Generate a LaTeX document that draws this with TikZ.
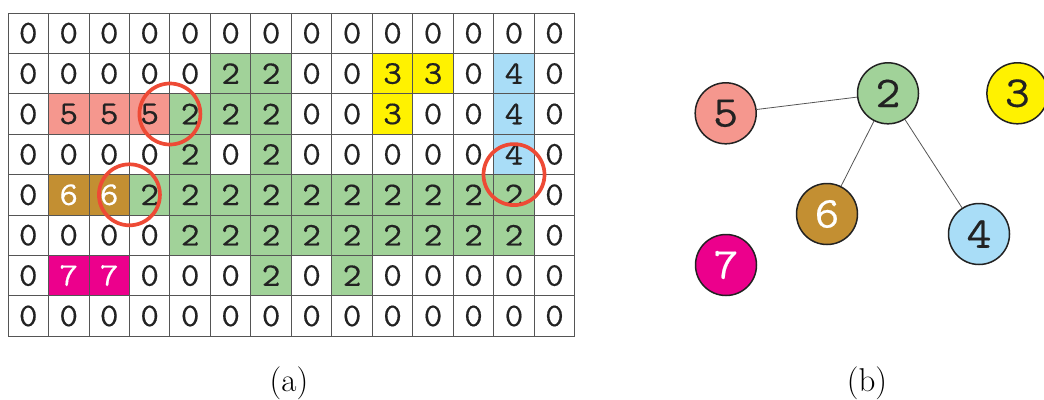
\documentclass[tikz,border=0pt]{standalone}
\usepackage{fontspec}
\newfontfamily\cellfont{Latin Modern Mono}[FakeBold=0.4,FakeStretch=1.1]
\newfontfamily\nodefont{Latin Modern Mono}[FakeBold=0.4,FakeStretch=1.1]
\definecolor{v0}{HTML}{FFFFFF}
\definecolor{v2}{HTML}{A1D299}
\definecolor{v3}{HTML}{FFF200}
\definecolor{v4}{HTML}{A9DDF7}
\definecolor{v5}{HTML}{F5978E}
\definecolor{v6}{HTML}{C38F32}
\definecolor{v7}{HTML}{EC008C}
\definecolor{t0}{HTML}{222222}
\definecolor{t2}{HTML}{222222}
\definecolor{t3}{HTML}{222222}
\definecolor{t4}{HTML}{222222}
\definecolor{t5}{HTML}{222222}
\definecolor{t6}{HTML}{FFFFFF}
\definecolor{t7}{HTML}{FFFFFF}
\definecolor{gridc}{HTML}{555555}
\definecolor{ringc}{HTML}{EE4A35}
\definecolor{edgec}{HTML}{555555}
\tikzset{
  cellbox/.style={draw=gridc, line width=0.9pt, minimum width=40.48pt, minimum height=40.4pt,
    inner sep=0pt, outer sep=0pt, font=\cellfont\fontsize{33}{34}\selectfont},
  ring/.style={draw=ringc, line width=3.7pt},
  gnode/.style={circle, draw=t0, line width=1.5pt, minimum size=61pt, inner sep=0pt,
    font=\nodefont\fontsize{44}{45}\selectfont},
  gedge/.style={draw=edgec, line width=0.8pt},
  caption/.style={font=\fontsize{33}{34}\selectfont, inner sep=0pt}
}
\begin{document}
\begin{tikzpicture}[x=1pt,y=-1pt]
\useasboundingbox (0,0) rectangle (1044,399);
\foreach \r/\row in {
  0/{0,0,0,0,0,0,0,0,0,0,0,0,0,0},
  1/{0,0,0,0,0,2,2,0,0,3,3,0,4,0},
  2/{0,5,5,5,2,2,2,0,0,3,0,0,4,0},
  3/{0,0,0,0,2,0,2,0,0,0,0,0,4,0},
  4/{0,6,6,2,2,2,2,2,2,2,2,2,2,0},
  5/{0,0,0,0,2,2,2,2,2,2,2,2,2,0},
  6/{0,7,7,0,0,0,2,0,2,0,0,0,0,0},
  7/{0,0,0,0,0,0,0,0,0,0,0,0,0,0}}{
  \foreach \v [count=\c from 0] in \row {
    \node[cellbox, fill=v\v, text=t\v] (cell-\r-\c) at ({8+40.48*(\c+0.5)},{13+40.4*(\r+0.5)}) {\v};
  }
}
\draw[ring] (cell-2-4.west) circle (30.5pt);
\draw[ring] (cell-4-3.west) circle (30.5pt);
\draw[ring] (cell-3-12.south) circle (30.5pt);

\node[gnode, fill=v5, text=t5] (n5) at (725.7,113.3) {5};
\node[gnode, fill=v2, text=t2] (n2) at (888,93.3) {2};
\node[gnode, fill=v3, text=t3] (n3) at (1017.4,93.3) {3};
\node[gnode, fill=v6, text=t6] (n6) at (827,214) {6};
\node[gnode, fill=v4, text=t4] (n4) at (979,234) {4};
\node[gnode, fill=v7, text=t7] (n7) at (726,265) {7};
\draw[gedge] (n5) -- (n2);
\draw[gedge] (n2) -- (n6);
\draw[gedge] (n2) -- (n4);

\node[caption] (capa) at (289,383) {(a)};
\node[caption] (capb) at (867,383) {(b)};
\end{tikzpicture}
\end{document}
